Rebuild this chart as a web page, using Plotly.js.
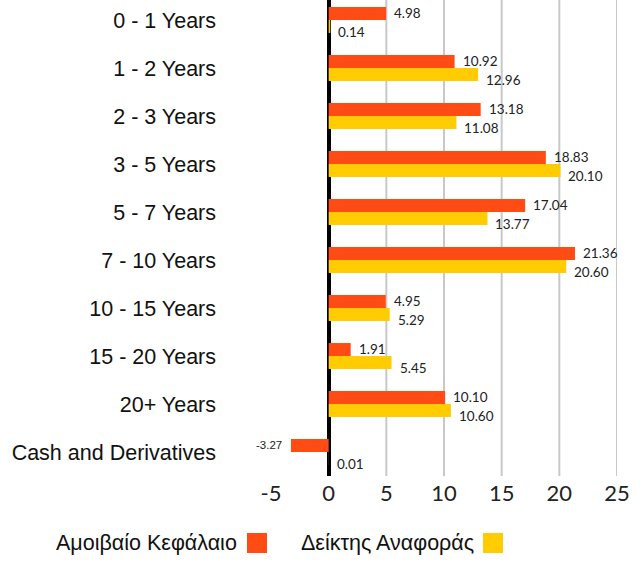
<!DOCTYPE html>
<html>
<head>
<meta charset="utf-8">
<script src="https://cdn.plot.ly/plotly-3.0.1.min.js"></script>
<style>html,body{margin:0;padding:0;background:#fff;}#chart{width:641px;height:561px;}</style>
</head>
<body>
<div id="chart"></div>
<script>
const categories = ["0 - 1 Years","1 - 2 Years","2 - 3 Years","3 - 5 Years","5 - 7 Years","7 - 10 Years","10 - 15 Years","15 - 20 Years","20+ Years","Cash and Derivatives"];
const fundValues = [4.98,10.92,13.18,18.83,17.04,21.36,4.95,1.91,10.10,-3.27];
const benchValues = [0.14,12.96,11.08,20.10,13.77,20.60,5.29,5.45,10.60,0.01];
const seriesNames = ["Αμοιβαίο Κεφάλαιο","Δείκτης Αναφοράς"];
const xTicks = [-5,0,5,10,15,20,25];

const RED = "#FF4B14", YEL = "#FFCC00";

const traces = [
  {type:"bar", orientation:"h", name:seriesNames[0], y:categories, x:fundValues,
   marker:{color:RED}, showlegend:false},
  {type:"bar", orientation:"h", name:seriesNames[1], y:categories, x:benchValues,
   marker:{color:YEL}, showlegend:false}
];

function labelAnn(v, cat, yshift) {
  const neg = v < 0;
  return {
    xref:"x", yref:"y", x:v, y:cat, showarrow:false,
    text:v.toFixed(2), xanchor: neg ? "right" : "left", yanchor:"middle",
    xshift: neg ? -7 : 6, yshift: yshift,
    font:{family: neg ? "Liberation Sans, Arial, sans-serif" : "Lato, sans-serif",
          size: neg ? 11.5 : 13.5, color:"#222"}
  };
}
const labelAnns = []
  .concat(fundValues.map((v,i) => labelAnn(v, categories[i], 7.5)))
  .concat(benchValues.map((v,i) => labelAnn(v, categories[i], -11.5)));

const gridShapes = xTicks.filter(t => t > 0).map(t => ({
  type:"line", xref:"x", yref:"paper", x0:t, x1:t, y0:0, y1:1,
  line:{color:"#c8c8c8", width:2}, layer:"below"
}));

const legendShapes = [
  {type:"rect", xref:"paper", yref:"paper", x0:-0.0694, x1:-0.0116, y0:-0.1197, y1:-0.1618, fillcolor:RED, line:{width:0}},
  {type:"rect", xref:"paper", yref:"paper", x0:0.6127, x1:0.6705, y0:-0.1197, y1:-0.1618, fillcolor:YEL, line:{width:0}}
];

const legendAnns = [
  {xref:"paper", yref:"paper", x:-0.0925, y:-0.1407, xanchor:"right", yanchor:"middle", showarrow:false,
   text:seriesNames[0], font:{family:"Liberation Sans, Arial, sans-serif", size:21.5, color:"#111"}},
  {xref:"paper", yref:"paper", x:0.5925, y:-0.1407, xanchor:"right", yanchor:"middle", showarrow:false,
   text:seriesNames[1], font:{family:"Liberation Sans, Arial, sans-serif", size:21.5, color:"#111"}}
];

const layout = {
  width:641, height:561,
  margin:{l:271, r:24, t:0, b:85},
  paper_bgcolor:"#fff", plot_bgcolor:"#fff",
  barmode:"group", bargap:0.46, bargroupgap:0,
  xaxis:{range:[-5,25], tickvals:xTicks, ticktext:xTicks.map(String), showgrid:false,
         zeroline:true, zerolinecolor:"#000", zerolinewidth:4, showline:false, ticks:"",
         tickfont:{family:"Lato, sans-serif", size:22, color:"#222"}, ticklabelstandoff:2, fixedrange:true},
  yaxis:{range:[9.5,-0.4167], type:"category", showgrid:false, zeroline:false, showline:false, ticks:"",
         tickfont:{family:"Liberation Sans, Arial, sans-serif", size:21.5, color:"#111"}, ticklabelstandoff:54},
  shapes: gridShapes.concat(legendShapes),
  annotations: labelAnns.concat(legendAnns),
  showlegend:false
};

Plotly.newPlot("chart", traces, layout, {displayModeBar:false, staticPlot:true});
</script>
</body>
</html>
